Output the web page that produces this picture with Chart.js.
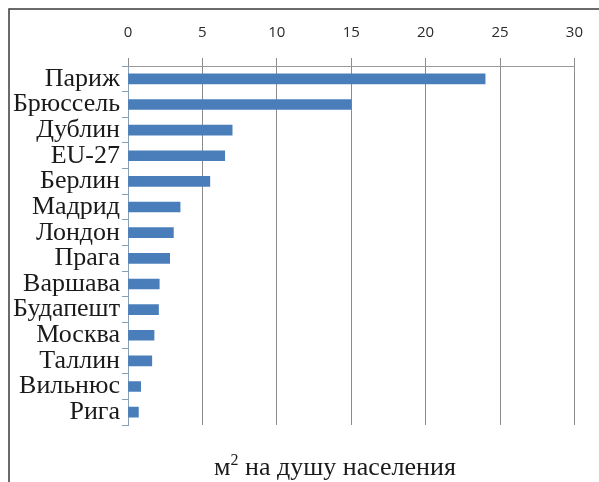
<!DOCTYPE html>
<html>
<head>
<meta charset="utf-8">
<script src="https://cdn.jsdelivr.net/npm/chart.js@4"></script>
<style>
  html, body { margin: 0; padding: 0; background: #fff; }
  #wrap { position: relative; width: 599px; height: 482px; }
</style>
</head>
<body>
<div id="wrap"><canvas id="chart" width="599" height="482"></canvas></div>
<script>
// города и площадь (м2 на душу населения)
const cities = ["Париж", "Брюссель", "Дублин", "EU-27", "Берлин", "Мадрид", "Лондон",
  "Прага", "Варшава", "Будапешт", "Москва", "Таллин", "Вильнюс", "Рига"];
const area = [24.0, 15.0, 7.0, 6.5, 5.5, 3.5, 3.05, 2.8, 2.1, 2.05, 1.75, 1.6, 0.85, 0.7];
const xTicks = [0, 5, 10, 15, 20, 25, 30];

// рамка и подпись оси снизу
const framePlugin = {
  id: "frame",
  afterDraw(chart) {
    const ctx = chart.ctx;
    ctx.save();
    ctx.strokeStyle = "#3a3a3a";
    ctx.lineWidth = 1.5;
    ctx.beginPath();
    ctx.moveTo(9, 482);
    ctx.lineTo(9, 9);
    ctx.lineTo(599, 9);
    ctx.stroke();

    ctx.fillStyle = "#1a1a1a";
    ctx.textBaseline = "alphabetic";
    const big = "26px 'Liberation Serif'", small = "16px 'Liberation Serif'";
    const a = "м", sup = "2", b = " на душу населения";
    ctx.font = big;
    const wa = ctx.measureText(a).width, wb = ctx.measureText(b).width;
    ctx.font = small;
    const ws = ctx.measureText(sup).width;
    let x = 335 - (wa + ws + wb) / 2;
    const y = 475;
    ctx.font = big;
    ctx.fillText(a, x, y);
    x += wa;
    ctx.font = small;
    ctx.fillText(sup, x, y - 10);
    x += ws;
    ctx.font = big;
    ctx.fillText(b, x, y);
    ctx.restore();
  }
};

new Chart(document.getElementById("chart"), {
  type: "bar",
  data: {
    labels: cities,
    datasets: [{
      data: area,
      backgroundColor: "#4a7ebb",
      barThickness: 10
    }]
  },
  options: {
    indexAxis: "y",
    responsive: false,
    animation: false,
    layout: { padding: { left: 0, top: 0, right: 15, bottom: 57 } },
    plugins: { legend: { display: false }, tooltip: { enabled: false } },
    scales: {
      x: {
        position: "top",
        min: 0,
        max: 30,
        afterBuildTicks: s => { s.ticks = xTicks.map(v => ({ value: v })); },
        afterFit: s => { s.height = 66; },
        grid: { color: "#8c8c8c", tickLength: 8, lineWidth: 1 },
        border: { color: "#9a9a9a" },
        ticks: { color: "#2a2a2a", padding: 16, font: { family: "'Open Sans'", size: 15 } }
      },
      y: {
        afterFit: s => { s.width = 128; },
        grid: { drawOnChartArea: false, tickLength: 6, color: "#8aa0b8" },
        border: { color: "#8aa0b8" },
        ticks: { color: "#1a1a1a", padding: 2, autoSkip: false, font: { family: "'Liberation Serif'", size: 26 } }
      }
    }
  },
  plugins: [framePlugin]
});
</script>
</body>
</html>
